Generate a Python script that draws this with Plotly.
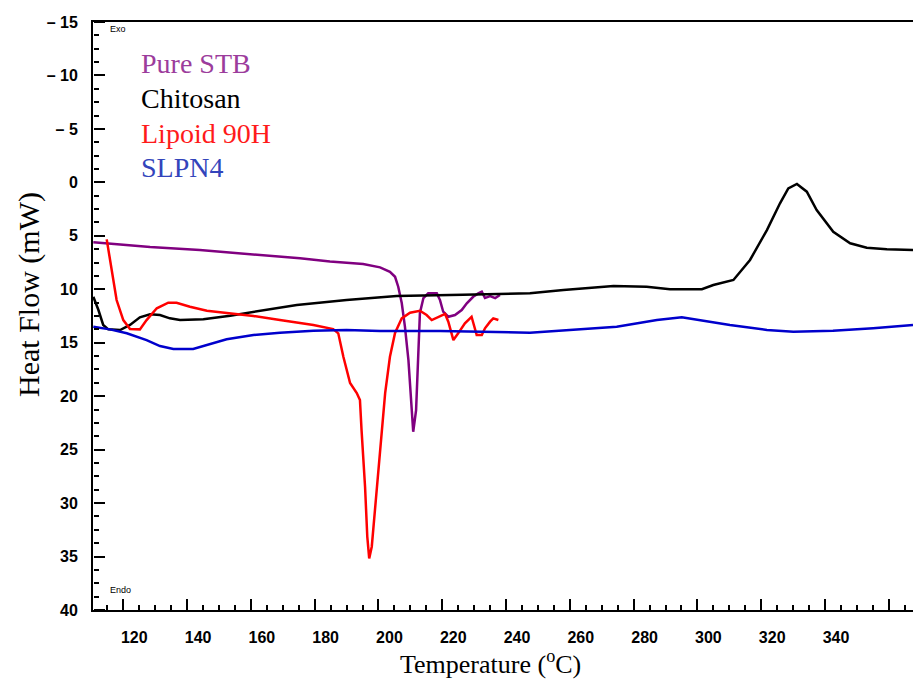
import plotly.graph_objects as go

# ---- data (temperature in °C, heat flow in mW) ----
stb_t = [110.6, 128.4, 144.0, 159.7, 175.4, 184.8, 195.2, 200.5, 203.6, 205.2, 206.2, 207.3, 208.3,
         209.4, 210.4, 210.9, 211.8, 212.5, 213.0, 214.1, 215.6, 218.3, 219.3, 220.3, 221.9, 224.0,
         226.1, 227.7, 229.7, 231.3, 232.4, 233.4, 235.0, 236.6, 238.1]
stb_v = [5.61, 6.05, 6.33, 6.70, 7.10, 7.40, 7.64, 7.95, 8.36, 8.83, 9.76, 11.29, 13.50,
         16.62, 21.30, 23.33, 21.30, 15.03, 12.22, 10.82, 10.38, 10.38, 11.01, 12.10, 12.57, 12.41,
         11.94, 11.31, 10.70, 10.38, 10.23, 10.82, 10.63, 10.82, 10.54]

chi_t = [110.6, 112.2, 113.7, 115.3, 119.0, 122.1, 125.2, 128.4, 131.5, 134.6, 137.8, 145.1, 153.5,
         163.9, 174.4, 190.0, 205.7, 226.5, 247.5, 258.0, 273.7, 284.1, 291.4, 301.4, 305.0, 311.3,
         316.5, 321.8, 325.9, 328.5, 331.2, 334.3, 337.4, 342.6, 347.9, 353.1, 359.4, 367.6]
chi_v = [10.70, 11.94, 13.34, 13.75, 13.81, 13.34, 12.62, 12.34, 12.41, 12.72, 12.88, 12.81, 12.47,
         11.94, 11.47, 11.01, 10.63, 10.51, 10.38, 10.07, 9.70, 9.76, 10.00, 10.00, 9.60, 9.13,
         7.26, 4.46, 1.96, 0.56, 0.15, 0.87, 2.59, 4.62, 5.70, 6.11, 6.26, 6.33]

lip_t = [114.8, 116.4, 117.9, 120.0, 122.1, 125.2, 127.3, 130.5, 134.1, 136.7, 140.9, 146.2, 153.5,
         160.8, 169.1, 179.6, 185.8, 187.4, 189.0, 191.1, 193.2, 194.2, 194.7, 195.8, 196.5, 197.1,
         197.9, 198.6, 199.5, 200.3, 201.3, 202.1, 203.6, 205.2, 207.3, 209.9, 213.0, 215.1, 216.7,
         218.8, 220.9, 221.9, 223.5, 225.0, 227.1, 229.2, 230.8, 232.4, 233.4, 235.0, 236.0, 237.6]
lip_v = [5.33, 8.20, 11.01, 12.88, 13.72, 13.75, 12.88, 11.78, 11.26, 11.26, 11.63, 12.01, 12.25,
         12.50, 12.88, 13.34, 13.72, 14.12, 16.31, 18.77, 19.71, 20.36, 23.17, 28.47, 33.15, 35.17,
         34.08, 31.59, 28.47, 25.32, 22.23, 19.71, 16.31, 14.09, 12.72, 12.19, 12.01, 12.41, 12.88,
         12.62, 12.31, 13.03, 14.75, 14.12, 13.18, 12.57, 14.28, 14.28, 13.65, 13.03, 12.72, 12.88]

slp_t = [110.6, 115.8, 121.1, 127.3, 131.5, 135.7, 141.9, 146.2, 152.4, 160.8, 169.1, 179.6, 190.0,
         200.5, 219.3, 247.5, 261.1, 274.7, 287.3, 295.1, 301.9, 310.2, 321.8, 330.1, 342.5, 355.1, 367.6]
slp_v = [13.50, 13.75, 14.12, 14.75, 15.31, 15.59, 15.59, 15.21, 14.68, 14.28, 14.06, 13.88, 13.81,
         13.90, 13.90, 14.06, 13.81, 13.50, 12.88, 12.62, 12.94, 13.34, 13.81, 13.97, 13.88, 13.65, 13.34]

series_names = ["Pure STB", "Chitosan", "Lipoid 90H", "SLPN4"]
line_colors = ["#800080", "#000000", "#ff0000", "#0000cc"]
label_colors = ["#9c3c9c", "#000000", "#ff1a1a", "#3344bb"]

y_alias = {"−15": "– 15", "−10": "– 10", "−5": "– 5"}
x_range = [110.5, 367.6]
y_range = [40, -15]

fig = go.Figure()
for (t, v), name, col in zip([(stb_t, stb_v), (chi_t, chi_v), (lip_t, lip_v), (slp_t, slp_v)],
                             series_names, line_colors):
    fig.add_trace(go.Scatter(x=t, y=v, mode="lines", name=name,
                             line=dict(color=col, width=2.5), showlegend=False))
# invisible copy on the overlay axes that carry the inward-pointing tick marks
fig.add_trace(go.Scatter(x=slp_t, y=slp_v, mode="lines", xaxis="x2", yaxis="y2", opacity=0,
                         hoverinfo="skip", showlegend=False, line=dict(width=0.1)))

W, H = 913, 679
L, R, T, B = 93, 0, 22, 69
pw, ph = W - L - R, H - T - B

def px(x):
    return (x - L) / pw

def py(y):
    return (H - B - y) / ph

annotations = []
for i, (name, col) in enumerate(zip(series_names, label_colors)):
    annotations.append(dict(text=name, x=px(139), y=py(64 + 34.5 * i), xref="paper", yref="paper",
                            xanchor="left", yanchor="middle", showarrow=False,
                            font=dict(family="Liberation Serif", size=28, color=col)))
annotations.append(dict(text="Exo", x=px(108), y=py(29), xref="paper", yref="paper",
                        xanchor="left", yanchor="middle", showarrow=False,
                        font=dict(family="Liberation Sans", size=9, color="black")))
annotations.append(dict(text="Endo", x=px(108), y=py(590), xref="paper", yref="paper",
                        xanchor="left", yanchor="middle", showarrow=False,
                        font=dict(family="Liberation Sans", size=9, color="black")))
annotations.append(dict(text="Temperature (<sup>o</sup>C)", x=px(490), y=py(662), xref="paper",
                        yref="paper", xanchor="center", yanchor="middle", showarrow=False,
                        font=dict(family="Liberation Serif", size=26, color="black")))
annotations.append(dict(text="Heat Flow (mW)", x=px(29), y=py(295), xref="paper", yref="paper",
                        xanchor="center", yanchor="middle", showarrow=False, textangle=-90,
                        font=dict(family="Liberation Serif", size=30, color="black")))

tick_font = dict(family="Liberation Sans", size=16, color="black", weight="bold")

fig.update_layout(
    width=W, height=H,
    margin=dict(l=L, r=R, t=T, b=B, pad=0),
    paper_bgcolor="white", plot_bgcolor="white",
    annotations=annotations,
    template="none",
    xaxis=dict(range=x_range, tickmode="linear", tick0=120, dtick=20, ticks="",
               showline=True, linecolor="black", linewidth=2, mirror=True, showgrid=False,
               zeroline=False, ticklabelstandoff=12, ticklabelshift=11, tickfont=tick_font),
    yaxis=dict(range=y_range, tickmode="linear", tick0=0, dtick=5, ticks="",
               showline=True, linecolor="black", linewidth=2, showgrid=False, zeroline=False,
               ticklabelstandoff=10, tickfont=tick_font, labelalias=y_alias),
    xaxis2=dict(range=x_range, overlaying="x", side="top", anchor="free", position=0,
                tickmode="linear", tick0=120, dtick=20, ticks="outside", ticklen=11, tickwidth=2,
                tickcolor="black", showticklabels=False, showline=False, showgrid=False,
                zeroline=False,
                minor=dict(ticks="outside", ticklen=5, dtick=5, tick0=0, tickwidth=1.5,
                           tickcolor="black", showgrid=False)),
    yaxis2=dict(range=y_range, overlaying="y", side="right", anchor="free", position=0,
                tickmode="linear", tick0=0, dtick=5, ticks="outside", ticklen=11, tickwidth=2,
                tickcolor="black", showticklabels=False, showline=False, showgrid=False,
                zeroline=False,
                minor=dict(ticks="outside", ticklen=5, dtick=1.25, tick0=0, tickwidth=1.5,
                           tickcolor="black", showgrid=False)),
)

fig.write_html("out.html")
